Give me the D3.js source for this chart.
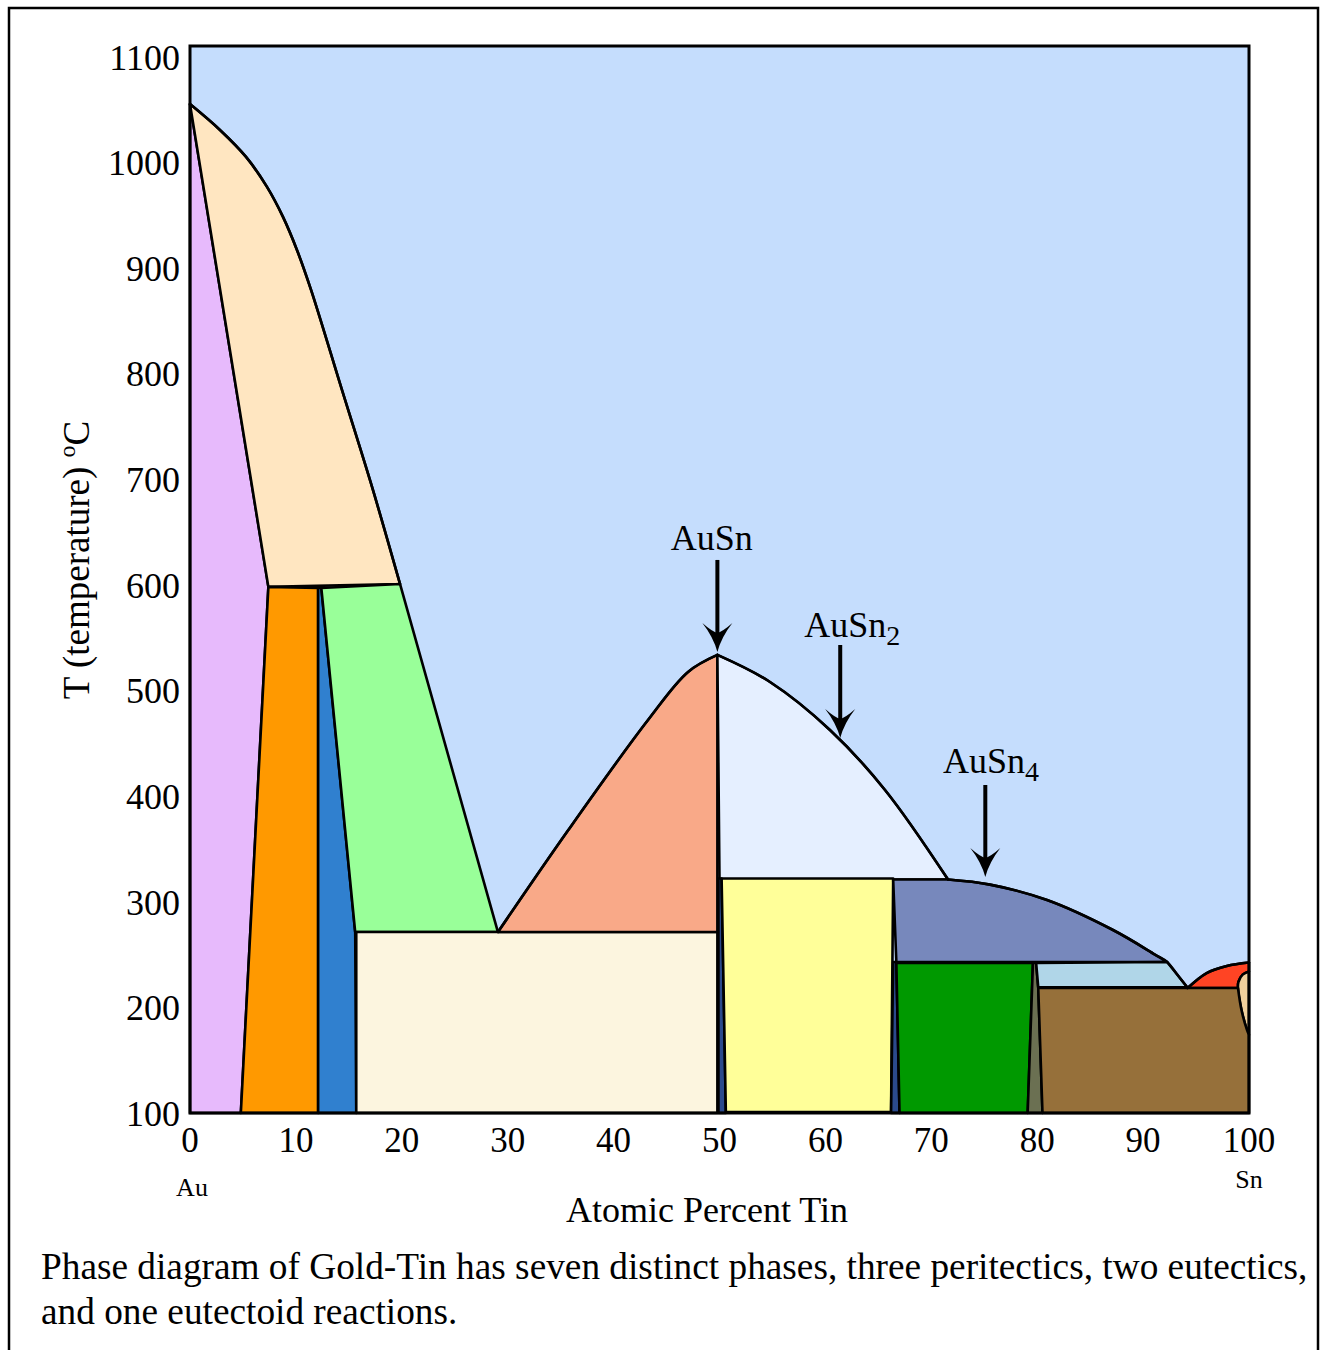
<!DOCTYPE html>
<html lang="en">
<head>
<meta charset="UTF-8">
<title>Gold-Tin Phase Diagram</title>
<script src="https://d3js.org/d3.v7.min.js"></script>
<style>
  body { margin: 0; background: #fff; }
  text { font-family: "Liberation Serif", "Times New Roman", serif; fill: #000; }
  .region { stroke: #000; stroke-width: 2.6; stroke-linejoin: round; }
  .boundary { fill: none; stroke: #000; stroke-width: 2.6; stroke-linecap: round; }
</style>
</head>
<body>
<svg class="chart"></svg>
<script>
// all points are (atomic % Sn, temperature °C)
const xTicks = [0, 10, 20, 30, 40, 50, 60, 70, 80, 90, 100];
const yTicks = [100, 200, 300, 400, 500, 600, 700, 800, 900, 1000, 1100];

// liquidus / boundary curves
const liquidusAu = [[0,1055],[2.83,1030.5],[5.29,1005],[7.27,976.6],[8.78,948.2],[10.1,916.9],[11.43,879.1],[14.35,784.4],[17.19,692.6],[19.83,600.8]];
const liquidusAuSn = [[29.08,271.3],[35.69,367.4],[43.25,472],[47.03,517.5],[49.8,533.6]];
const liquidusRight = [[49.8,533.6],[54.77,508],[60.43,462.6],[65.63,405.8],[71.58,321]];
const liquidusSn = [[71.58,321],[75.54,316.2],[80.93,301.6],[87.16,273.2],[91.12,250],[92.26,243],[93.2,231.3],[94.15,219.3]];
const liquidusSnEnd = [[94.2,218.3],[96.0,232.5],[97.9,239.2],[100,242.5]];
const tanEdge = [[100,234],[99.4,231],[99.0,224],[98.96,218.3],[99.3,197],[99.8,179],[100,174]];

// phase fields: each piece is either a straight polyline ("l") or a smooth curve ("c")
const regions = [
  { name: "alpha",       color: "#e7bafc", pieces: [["l", [[0,1055],[7.4,598],[4.8,100],[0,100]]]] },
  { name: "alpha+L",     color: "#ffe6c1", pieces: [["c", liquidusAu], ["l", [[7.4,598]]]] },
  { name: "beta",        color: "#ff9900", pieces: [["l", [[7.4,598],[12.1,597],[12.1,100],[4.8,100]]]] },
  { name: "beta+zeta",   color: "#3080cf", pieces: [["l", [[12.1,597],[12.4,597],[15.6,271.3],[15.7,100],[12.1,100]]]] },
  { name: "zeta+L",      color: "#99ff99", pieces: [["l", [[12.4,597],[19.83,600.8],[29.08,271.3],[15.6,271.3]]]] },
  { name: "zeta+AuSn",   color: "#fcf5df", pieces: [["l", [[15.7,271.3],[49.8,271.3],[49.8,100],[15.7,100]]]] },
  { name: "L+AuSn (a)",  color: "#f9a988", pieces: [["c", liquidusAuSn], ["l", [[49.8,271.3]]]] },
  { name: "L+AuSn (b)",  color: "#e5efff", pieces: [["c", liquidusRight], ["l", [[50.0,321]]]] },
  { name: "AuSn",        color: "#2b4a8c", pieces: [["l", [[49.9,322],[50.2,322],[50.6,100],[49.9,100]]]] },
  { name: "AuSn+AuSn2",  color: "#ffff99", pieces: [["l", [[50.2,322],[66.4,322],[66.2,101],[50.6,101]]]] },
  { name: "AuSn2",       color: "#2b4a8c", pieces: [["l", [[66.4,243],[66.7,243],[67.0,100],[66.2,100]]]] },
  { name: "L+AuSn2",     color: "#7788bc", pieces: [["l", [[66.4,321]]], ["c", liquidusSn.slice(0, 6)], ["l", [[66.7,243]]]] },
  { name: "AuSn2+AuSn4", color: "#009900", pieces: [["l", [[66.7,242],[79.6,242],[79.1,100],[67.0,100]]]] },
  { name: "AuSn4",       color: "#6b7052", pieces: [["l", [[79.6,242],[79.9,242],[80.1,218.3],[80.5,100],[79.1,100]]]] },
  { name: "L+AuSn4",     color: "#b0d6e8", pieces: [["l", [[79.9,242]]], ["c", liquidusSn.slice(5)], ["l", [[80.1,219]]]] },
  { name: "L+Sn",        color: "#ff4424", pieces: [["c", liquidusSnEnd], ["c", tanEdge.slice(0, 4)]] },
  { name: "Sn",          color: "#f0d09c", pieces: [["c", tanEdge]] },
  { name: "AuSn4+Sn",    color: "#96703a", pieces: [["l", [[80.1,218.3]]], ["c", tanEdge.slice(3)], ["l", [[100,100],[80.5,100]]]] }
];
const liquidusLines = [liquidusAu, liquidusAuSn, liquidusRight, liquidusSn, liquidusSnEnd];

const compoundNames = ["AuSn", "AuSn", "AuSn"];
const compoundSubs = ["", "2", "4"];
const arrowX = [49.8, 61.4, 75.1];
const arrowTop = [623.5, 543, 410.5];
const arrowTip = [536.4, 455, 323.4];
const labelX = [45.4, 58.0, 71.1];
const labelT = [633, 551, 422];

const caption = [
  "Phase diagram of Gold-Tin has seven distinct phases, three peritectics, two eutectics,",
  "and one eutectoid reactions."
];

const W = 1320, H = 1350;
const svg = d3.select(".chart").attr("width", W).attr("height", H).attr("viewBox", `0 0 ${W} ${H}`);

// outer frame
svg.append("rect").attr("x", 9).attr("y", 8).attr("width", 1309).attr("height", 1360)
  .attr("fill", "#fff").attr("stroke", "#000").attr("stroke-width", 2.5);

const x = d3.scaleLinear().domain([0, 100]).range([190, 1249]);
const y = d3.scaleLinear().domain([100, 1110]).range([1113, 46]);

// liquid background
svg.append("rect")
  .attr("x", x(0)).attr("y", y(1110))
  .attr("width", x(100) - x(0)).attr("height", y(100) - y(1110))
  .attr("fill", "#c5ddfd");

const gens = {
  l: d3.line().x(d => x(d[0])).y(d => y(d[1])),
  c: d3.line().x(d => x(d[0])).y(d => y(d[1])).curve(d3.curveCatmullRom.alpha(0.5))
};

function regionPath(r) {
  let d = "";
  r.pieces.forEach(([kind, pts], i) => {
    const s = gens[kind](pts);
    d += i === 0 ? s : "L" + s.slice(1);
  });
  return d + "Z";
}

svg.append("g").selectAll("path")
  .data(regions)
  .join("path")
  .attr("class", "region")
  .attr("d", regionPath)
  .attr("fill", d => d.color);

// liquidus curves drawn whole on top, so split fields join smoothly
svg.append("g").selectAll("path")
  .data(liquidusLines)
  .join("path")
  .attr("class", "boundary")
  .attr("d", gens.c);

// plot frame
svg.append("rect")
  .attr("x", x(0)).attr("y", y(1110))
  .attr("width", x(100) - x(0)).attr("height", y(100) - y(1110))
  .attr("fill", "none").attr("stroke", "#000").attr("stroke-width", 3);

// y tick labels
svg.append("g").selectAll("text")
  .data(yTicks)
  .join("text")
  .attr("x", 180)
  .attr("y", d => y(d))
  .attr("dy", "0.36em")
  .attr("text-anchor", "end")
  .attr("font-size", 36)
  .text(d => d);

// x tick labels
svg.append("g").selectAll("text")
  .data(xTicks)
  .join("text")
  .attr("x", d => x(d))
  .attr("y", 1152)
  .attr("text-anchor", "middle")
  .attr("font-size", 35)
  .text(d => d);

svg.append("text").attr("x", x(0) + 2).attr("y", 1196).attr("text-anchor", "middle")
  .attr("font-size", 26).text("Au");
svg.append("text").attr("x", x(100)).attr("y", 1188).attr("text-anchor", "middle")
  .attr("font-size", 26).text("Sn");

svg.append("text").attr("x", 707).attr("y", 1222).attr("text-anchor", "middle")
  .attr("font-size", 36).text("Atomic Percent Tin");

const yl = svg.append("text")
  .attr("transform", "translate(89,560) rotate(-90)")
  .attr("text-anchor", "middle")
  .attr("font-size", 37);
yl.append("tspan").text("T (temperature) ");
yl.append("tspan").attr("font-size", 24).attr("dy", -14).text("o");
yl.append("tspan").attr("dy", 14).text("C");

// compound arrows
const arrows = svg.append("g");
arrowX.forEach((ax, i) => {
  const px = x(ax), top = y(arrowTop[i]), tip = y(arrowTip[i]);
  arrows.append("line")
    .attr("x1", px).attr("x2", px).attr("y1", top).attr("y2", tip - 16)
    .attr("stroke", "#000").attr("stroke-width", 4);
  arrows.append("path")
    .attr("transform", `translate(${px},${tip})`)
    .attr("d", "M0,0 Q-4,-15 -15,-29 Q-6,-21 0,-19 Q6,-21 15,-29 Q4,-15 0,0Z")
    .attr("fill", "#000");
  const t = arrows.append("text")
    .attr("x", x(labelX[i])).attr("y", y(labelT[i]))
    .attr("font-size", 36);
  t.append("tspan").text(compoundNames[i]);
  if (compoundSubs[i]) t.append("tspan").attr("font-size", 28).attr("dy", 8).text(compoundSubs[i]);
});

// caption
svg.append("g").selectAll("text")
  .data(caption)
  .join("text")
  .attr("x", 41)
  .attr("y", (d, i) => 1279 + i * 45)
  .attr("font-size", 37.3)
  .text(d => d);
</script>
</body>
</html>
